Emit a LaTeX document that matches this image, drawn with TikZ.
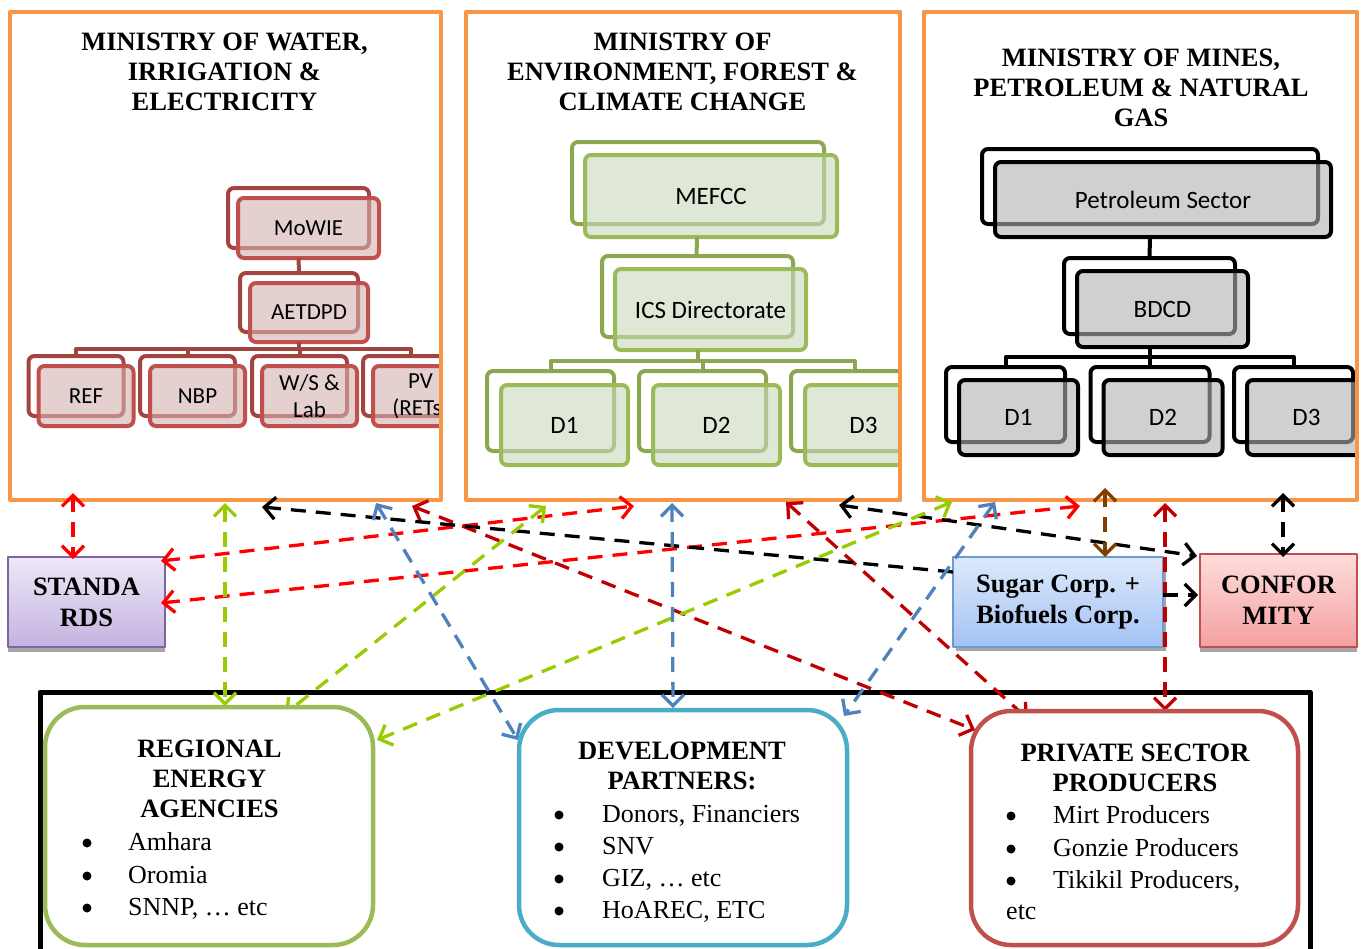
\documentclass[tikz,border=0pt]{standalone}
\usepackage{fontspec}
\setmainfont{Liberation Serif}
\newfontfamily\carlito{Carlito}
\usetikzlibrary{arrows.meta,calc}
\pgfdeclarelayer{front}
\pgfsetlayers{main,front}
\definecolor{orng}{HTML}{F79646}
\definecolor{redbox}{HTML}{C0504D}
\definecolor{redfill}{HTML}{D5B1B1}
\definecolor{grnbox}{HTML}{9BBB59}
\definecolor{grnfill}{HTML}{CBD9BB}
\definecolor{grayfill}{HTML}{B1B1B1}
\definecolor{linkred}{HTML}{FF0000}
\definecolor{linkdark}{HTML}{C00000}
\definecolor{linkbrown}{HTML}{7F3F00}
\definecolor{linkgreen}{HTML}{99CC00}
\definecolor{linkblue}{HTML}{4F81BD}
\definecolor{devblue}{HTML}{4BACC6}
\definecolor{stdborder}{HTML}{8064A2}
\definecolor{stdtop}{HTML}{EEE8F7}
\definecolor{stdbot}{HTML}{C3B3DF}
\definecolor{sugborder}{HTML}{6C9BD2}
\definecolor{sugtop}{HTML}{DDE9FB}
\definecolor{sugbot}{HTML}{A3C2F4}
\definecolor{conftop}{HTML}{FFDCDC}
\definecolor{confbot}{HTML}{F3A1A0}
\newcommand\orgbox[8]{%
  \draw[#7back] ({#2-#4/2-#6},{#3-#5/2-#6}) rectangle ({#2+#4/2-#6},{#3+#5/2-#6});
  \node[#7front, minimum width=#4pt, minimum height=#5pt] (#1) at (#2,#3) {#8};
}
\tikzset{
 ministry/.style={draw=orng, line width=4.5pt, inner sep=0pt, outer sep=0pt},
 mtitle/.style={font=\bfseries\fontsize{26.5}{30}\selectfont, align=center, inner sep=0pt},
 redback/.style={draw=redbox!85!black, line width=4pt, rounded corners=6pt, fill=white},
 redfront/.style={draw=redbox, line width=4pt, rounded corners=6pt, fill=redfill, fill opacity=0.6, text opacity=1, inner sep=0pt, outer sep=0pt, align=center, font=\carlito\fontsize{23}{27}\selectfont},
 redline/.style={draw=redbox!85!black, line width=4pt},
 grnback/.style={draw=grnbox!90!black, line width=4pt, rounded corners=6pt, fill=white},
 grnfront/.style={draw=grnbox, line width=4pt, rounded corners=6pt, fill=grnfill, fill opacity=0.6, text opacity=1, inner sep=0pt, outer sep=0pt, align=center, font=\carlito\fontsize{25}{29}\selectfont},
 grnline/.style={draw=grnbox!90!black, line width=4pt},
 gryback/.style={draw=black, line width=4pt, rounded corners=6pt, fill=white},
 gryfront/.style={draw=black, line width=4pt, rounded corners=6pt, fill=grayfill, fill opacity=0.6, text opacity=1, inner sep=0pt, outer sep=0pt, align=center, font=\carlito\fontsize{25}{29}\selectfont},
 gryline/.style={draw=black, line width=4pt},
 sidebox/.style={line width=2pt, inner sep=0pt, outer sep=0pt, align=center, font=\bfseries\fontsize{26.5}{31}\selectfont},
 shadowbox/.style={fill=black!35},
 link/.style={line width=3.3pt, dash pattern=on 15pt off 10pt},
 bigbox/.style={line width=4.5pt, rounded corners=40pt, fill=white, inner sep=0pt, outer sep=0pt},
 head/.style={font=\bfseries\fontsize{26.5}{30}\selectfont, align=center, inner sep=0pt},
 item/.style={anchor=base west, inner sep=0pt, font=\fontsize{26}{30}\selectfont},
 bul/.style={circle, fill=black, inner sep=0pt, minimum size=9pt},
 >={Straight Barb[length=11pt,width=22pt]}
}
\begin{document}
\begin{tikzpicture}[x=1pt,y=-1pt,line join=round]
\useasboundingbox (0,0) rectangle (1365,948);
\clip (0,0) rectangle (1365,948);
\fill[white] (0,0) rectangle (1365,948);

% bottom frame
\draw[line width=5pt] (40,960) -- (40,692) -- (1310,692) -- (1310,960);

% ---- Ministry 1
\begin{scope}
\clip (10,12) rectangle (441,500);
\orgbox{mowie}{308.5}{228}{141}{60}{10}{red}{MoWIE}
\orgbox{aetdpd}{309}{312.5}{118}{59}{10}{red}{AETDPD}
\orgbox{ref}{86}{396}{95}{60}{10}{red}{REF}
\orgbox{nbp}{197.5}{396}{95}{60}{10}{red}{NBP}
\orgbox{ws}{309.5}{396}{95}{60}{10}{red}{W/S \&\\Lab}
\orgbox{pv}{420.5}{396}{95}{60}{10}{red}{PV\\(RETs)}
\draw[redline] ($(mowie.south)+(-10,0)$) -- ($(aetdpd.north)+(-10,-11)$);
\foreach \n in {ref,nbp,ws,pv}
  \draw[redline] ($(aetdpd.south)+(-10,0)$) -- ++(0,7) -| ($(\n.north)+(-10,-10)$);
\end{scope}
\node[ministry, minimum width=431pt, minimum height=488pt] (mw) at (225.5,256) {};
\node[mtitle] (t1) at (224.5,71.5) {MINISTRY OF WATER,\\IRRIGATION \&\\ELECTRICITY};

% ---- Ministry 2
\begin{scope}
\clip (466,12) rectangle (900,500);
\orgbox{mefcc}{711}{196}{252}{82}{13}{grn}{MEFCC}
\orgbox{ics}{710.5}{309.5}{191}{81}{13}{grn}{ICS Directorate}
\orgbox{ed1}{564.5}{425}{127}{80}{14}{grn}{D1}
\orgbox{ed2}{716.5}{425}{127}{80}{14}{grn}{D2}
\orgbox{ed3}{868.5}{425}{127}{80}{14}{grn}{\hspace*{-10pt}D3}
\draw[grnline] ($(mefcc.south)+(-14,0)$) -- ($(ics.north)+(-14,-13)$);
\foreach \n in {ed1,ed2,ed3}
  \draw[grnline] ($(ics.south)+(-13,0)$) -- ++(0,11) -| ($(\n.north)+(-14,-14)$);
\end{scope}
\node[ministry, minimum width=434pt, minimum height=488pt] (mef) at (683,256) {};
\node[mtitle] (t2) at (682.5,71.5) {MINISTRY OF\\ENVIRONMENT, FOREST \&\\CLIMATE CHANGE};

% ---- Ministry 3
\begin{scope}
\clip (924,12) rectangle (1357,500);
\orgbox{pet}{1163}{199.5}{336}{75}{13}{gry}{Petroleum Sector}
\orgbox{bdcd}{1162.5}{309}{171}{76}{13}{gry}{BDCD}
\orgbox{pd1}{1018.5}{417.5}{119}{75}{13}{gry}{D1}
\orgbox{pd2}{1163}{417.5}{119}{75}{13}{gry}{D2}
\orgbox{pd3}{1306.5}{417.5}{119}{75}{13}{gry}{D3}
\draw[gryline] ($(pet.south)+(-13,0)$) -- ($(bdcd.north)+(-13,-13)$);
\foreach \n in {pd1,pd2,pd3}
  \draw[gryline] ($(bdcd.south)+(-13,0)$) -- ++(0,10) -| ($(\n.north)+(-13,-13)$);
\end{scope}
\node[ministry, minimum width=433pt, minimum height=488pt] (mmp) at (1140.5,256) {};
\node[mtitle] (t3) at (1141,87.5) {MINISTRY OF MINES,\\PETROLEUM \& NATURAL\\GAS};

% ---- side boxes
\fill[shadowbox] (8,562) rectangle (165,652);
\node[sidebox, draw=stdborder, top color=stdtop, bottom color=stdbot, minimum width=157pt, minimum height=90pt] (std) at (86.5,602) {STANDA\\RDS};
\fill[shadowbox] (956,561) rectangle (1166,651);
\node[sidebox, draw=sugborder, top color=sugtop, bottom color=sugbot, minimum width=210pt, minimum height=90pt] (sugar) at (1058,602) {Sugar Corp. +\\Biofuels Corp.};
\fill[shadowbox] (1200,559) rectangle (1357,652);
\node[sidebox, draw=redbox, top color=conftop, bottom color=confbot, minimum width=157pt, minimum height=93pt] (conf) at (1278.5,600.5) {CONFOR\\MITY};

% ---- bottom boxes (front layer)
\begin{pgfonlayer}{front}
\node[bigbox, draw=grnbox, minimum width=328pt, minimum height=238pt] (reg) at (209,826) {};
\node[head] (reghead) at (209.5,778.5) {REGIONAL\\ENERGY\\AGENCIES};
\node[bul] (rb1) at (87,843) {};
\node[bul] (rb2) at (87,876) {};
\node[bul] (rb3) at (87,908) {};
\node[item] (ri1) at (128,850) {Amhara};
\node[item] (ri2) at (128,883) {Oromia};
\node[item] (ri3) at (128,915) {SNNP, … etc};

\node[bigbox, draw=devblue, minimum width=328pt, minimum height=235pt] (dev) at (683,827.5) {};
\node[head] (devhead) at (682,765.5) {DEVELOPMENT\\PARTNERS:};
\node[bul] (db1) at (559,815) {};
\node[bul] (db2) at (559,847) {};
\node[bul] (db3) at (559,879) {};
\node[bul] (db4) at (559,911) {};
\node[item] (di1) at (602,822) {Donors, Financiers};
\node[item] (di2) at (602,854) {SNV};
\node[item] (di3) at (602,886) {GIZ, … etc};
\node[item] (di4) at (602,918) {HoAREC, ETC};

\node[bigbox, draw=redbox, minimum width=327pt, minimum height=234pt] (priv) at (1134.5,828) {};
\node[head] (privhead) at (1135,767.5) {PRIVATE SECTOR\\PRODUCERS};
\node[bul] (pb1) at (1011,816) {};
\node[bul] (pb2) at (1011,849) {};
\node[bul] (pb3) at (1011,881) {};
\node[item] (pi1) at (1053,823) {Mirt Producers};
\node[item] (pi2) at (1053,856) {Gonzie Producers};
\node[item] (pi3) at (1053,888) {Tikikil Producers,};
\node[item] (pi4) at (1006,919) {etc};
\end{pgfonlayer}

% ---- connectors
\draw[link,draw=linkred,<->] ($(mw.south west)+(63,-7)$) -- ($(std.north west)+(65,2)$);
\draw[link,draw=linkred,<->] ($(std.north east)+(-4,4)$) -- ($(mef.south west)+(168,6)$);
\draw[link,draw=linkred,<->] ($(std.north east)+(-4,46)$) -- ($(mmp.south west)+(156,6)$);
\draw[link,draw=linkdark,<->] ($(mw.south west)+(402,6)$) -- ($(priv.north west)+(4,19)$);
\draw[link,draw=linkdark,<->] ($(mef.south west)+(320,2)$) -- ($(priv.north west)+(57,8)$);
\draw[link,draw=linkdark,<->] ($(mmp.south west)+(241,3)$) -- ($(priv.north west)+(194,0)$);
\draw[link,draw=black,<-] ($(mw.south west)+(252,7)$) -- ($(sugar.north west)+(0,15)$);
\draw[link,draw=black,<->] ($(mef.south west)+(373,5)$) -- ($(conf.north west)+(-3,2)$);
\draw[link,draw=black,->] ($(sugar.north east)+(0,38)$) -- ($(conf.north west)+(-2,41)$);
\draw[link,draw=black,<->] ($(mmp.south west)+(359,-7)$) -- ($(conf.north west)+(83,3)$);
\draw[link,draw=linkbrown,<->] ($(mmp.south west)+(181,-12)$) -- ($(sugar.north west)+(152,0)$);
\draw[link,draw=linkgreen,<->] ($(mw.south west)+(215,3)$) -- ($(reg.north west)+(180,-1)$);
\draw[link,draw=linkgreen,<->] ($(mef.south west)+(80,6)$) -- ($(reg.north west)+(240,7)$);
\draw[link,draw=linkgreen,<->] ($(mmp.south west)+(28,2)$) -- ($(reg.north east)+(4,33)$);
\draw[link,draw=linkblue,<->] ($(mw.south west)+(366,3)$) -- ($(dev.north west)+(-1,30)$);
\draw[link,draw=linkblue,<->] ($(mef.south west)+(206,3)$) -- ($(dev.north west)+(154,-2)$);
\draw[link,draw=linkblue,<->] ($(mmp.south west)+(71,2)$) -- ($(dev.north east)+(-3,6)$);
\end{tikzpicture}
\end{document}
